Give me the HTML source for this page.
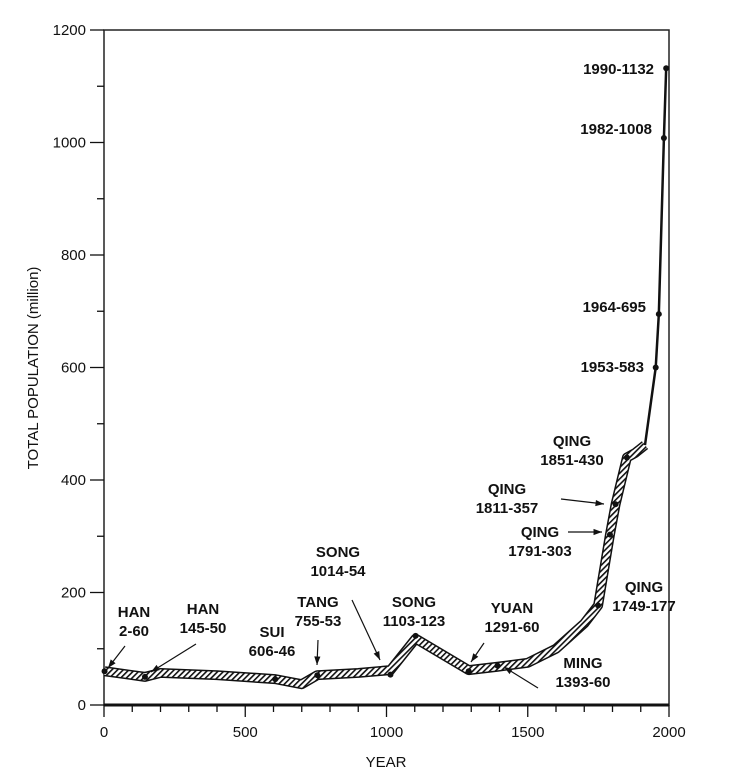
<!DOCTYPE html>
<html><head><meta charset="utf-8"><style>
body{margin:0;background:#fff;}
svg text{font-family:"Liberation Sans",sans-serif;fill:#111;}
.lb{font-weight:bold;font-size:15px;}
.tk{font-size:15px;}
</style></head><body>
<svg width="752" height="778">
<defs>
<pattern id="hatch" width="4" height="4" patternUnits="userSpaceOnUse" patternTransform="rotate(45)">
<rect width="4" height="4" fill="#fff"/><rect width="1.6" height="4" fill="#111"/>
</pattern>
</defs>
<g id="axes"></g>
<g id="series"></g>
<g id="labels"></g>
</svg>
<script>
const years=[2,145,200,400,606,700,755,900,1014,1103,1291,1393,1500,1600,1700,1749,1791,1811,1851,1880,1915,1953,1964,1982,1990];
const pops=[60,50,57,53,46,37,53,57,62,118,62,68,75,100,145,177,303,357,440,448,462,600,695,1008,1132];
const markYears=[2,145,606,755,1014,1103,1291,1393,1749,1791,1811,1851,1953,1964,1982,1990];
const markPops=[60,50,46,53,54,123,60,70,177,303,357,440,600,695,1008,1132];
const xTicks=[0,500,1000,1500,2000];
const yTicks=[0,200,400,600,800,1000,1200];
const X=v=>104+v*0.2825, Y=v=>705-v*0.5625;
const NS="http://www.w3.org/2000/svg";
function mk(t,a,p){const e=document.createElementNS(NS,t);for(const k in a)e.setAttribute(k,a[k]);p.appendChild(e);return e;}
const ax=document.getElementById('axes');
const frame=mk('rect',{x:104,y:30,width:565,height:675,fill:'none',stroke:'#222','stroke-width':1.5},ax);

const base=mk('line',{x1:104,y1:705,x2:669,y2:705,stroke:'#111','stroke-width':3},ax);

for(let v=0;v<=2000;v+=100){const l=mk('line',{x1:X(v),x2:X(v),y1:705,y2:v%500==0?717:712,stroke:'#111','stroke-width':1.3},ax);
}
xTicks.forEach(v=>{const t=mk('text',{x:X(v),y:737,'text-anchor':'middle',class:'tk'},ax);t.textContent=v;
});
for(let v=0;v<=1200;v+=100){const l=mk('line',{x1:v%200==0?90:97,x2:104,y1:Y(v),y2:Y(v),stroke:'#111','stroke-width':1.3},ax);
}
yTicks.forEach(v=>{const t=mk('text',{x:86,y:Y(v)+5,'text-anchor':'end',class:'tk'},ax);t.textContent=v;
});
const xt=mk('text',{x:386,y:767,'text-anchor':'middle',class:'tk'},ax);xt.textContent='YEAR';

const yt=mk('text',{x:38,y:368,'text-anchor':'middle',class:'tk',transform:'rotate(-90 38 368)'},ax);yt.textContent='TOTAL  POPULATION  (million)';

const s=document.getElementById('series');
let d='';years.forEach((y,i)=>{if(years[i]<=1915)d+=(d?'L':'M')+X(y)+' '+Y(pops[i]);});
let d2='';years.forEach((y,i)=>{if(years[i]>=1915)d2+=(d2?'L':'M')+X(y)+' '+Y(pops[i]);});
const b1=mk('path',{d:d,fill:'none',stroke:'#111','stroke-width':10,'stroke-linejoin':'round'},s);

const b2=mk('path',{d:d,fill:'none',stroke:'url(#hatch)','stroke-width':7,'stroke-linejoin':'round'},s);

const b3=mk('path',{d:d2,fill:'none',stroke:'#111','stroke-width':2.5},s);

markYears.forEach((y,i)=>{const c=mk('circle',{cx:X(y),cy:Y(markPops[i]),r:3,fill:'#111'},s);
});
const L=document.getElementById('labels');
const labels=[
[134,617,'HAN','2-60'],[203,614,'HAN','145-50'],[272,637,'SUI','606-46'],[318,607,'TANG','755-53'],
[338,557,'SONG','1014-54'],[414,607,'SONG','1103-123'],[512,613,'YUAN','1291-60'],[583,668,'MING','1393-60'],
[644,592,'QING','1749-177'],[572,446,'QING','1851-430'],[507,494,'QING','1811-357'],[540,537,'QING','1791-303']];
labels.forEach(a=>{const t=mk('text',{x:a[0],y:a[1],'text-anchor':'middle',class:'lb'},L);

const t1=mk('tspan',{x:a[0],dy:0},t);t1.textContent=a[2];const t2=mk('tspan',{x:a[0],dy:19},t);t2.textContent=a[3];});
[[654,74,'1990-1132'],[652,134,'1982-1008'],[646,312,'1964-695'],[644,372,'1953-583']].forEach(a=>{
const t=mk('text',{x:a[0],y:a[1],'text-anchor':'end',class:'lb'},L);t.textContent=a[2];
});
const arrows=[[125,646,108,668],[196,644,151,672],[318,640,317,665],[352,600,380,660],[484,643,471,662],[538,688,504,667],[561,499,604,504],[568,532,602,532]];
arrows.forEach(a=>{const l=mk('line',{x1:a[0],y1:a[1],x2:a[2],y2:a[3],stroke:'#111','stroke-width':1.2},L);

const ang=Math.atan2(a[3]-a[1],a[2]-a[0]);const h=9;
const p=`${a[2]},${a[3]} ${a[2]-h*Math.cos(ang-0.35)},${a[3]-h*Math.sin(ang-0.35)} ${a[2]-h*Math.cos(ang+0.35)},${a[3]-h*Math.sin(ang+0.35)}`;
const pg=mk('polygon',{points:p,fill:'#111'},L);});
</script>
</body></html>
